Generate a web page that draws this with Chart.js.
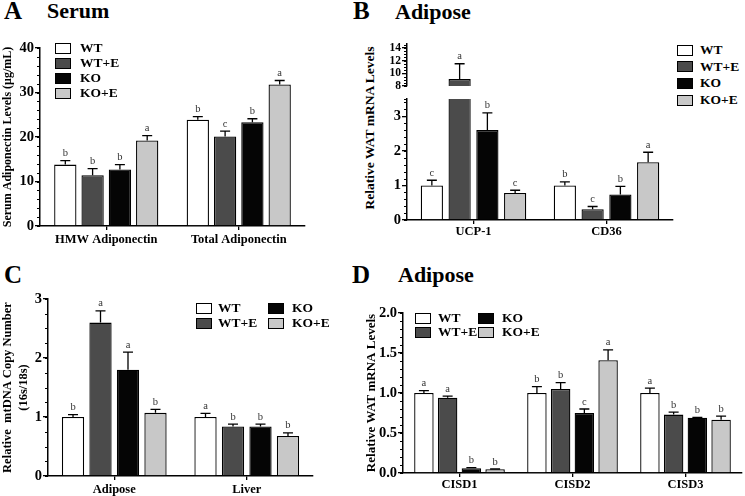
<!DOCTYPE html>
<html>
<head>
<meta charset="utf-8">
<script src="https://cdn.jsdelivr.net/npm/chart.js@4.4.1/dist/chart.umd.min.js"></script>
<style>
  body { margin: 0; background: #fff; }
  #fig { position: relative; width: 745px; height: 496px; overflow: hidden; background: #fff;
         font-family: 'Liberation Serif', 'Times New Roman', serif; color: #000; }
  #fig canvas { position: absolute; }
  .lbl { position: absolute; font-weight: bold; line-height: 1; white-space: nowrap; }
  .panel { font-size: 25px; }
  .head { font-size: 22px; }
  .leg { position: absolute; font-weight: bold; font-size: 13.5px; line-height: 1; white-space: nowrap; }
  .box { position: absolute; width: 16px; height: 11px; border: 1.3px solid #000; box-sizing: border-box; }
  .ytitle { position: absolute; font-weight: bold; font-size: 13.5px; white-space: nowrap;
            transform: translate(-50%, -50%) rotate(-90deg); }
</style>
</head>
<body>
<div id="fig">
  <div class="lbl panel" style="left:4px;top:-2px">A</div>
  <div class="lbl head" style="left:47px;top:0px">Serum</div>
  <div class="lbl panel" style="left:353px;top:-2px">B</div>
  <div class="lbl head" style="left:395px;top:1px">Adipose</div>
  <div class="lbl panel" style="left:4px;top:262px">C</div>
  <div class="lbl panel" style="left:352px;top:262px">D</div>
  <div class="lbl head" style="left:398px;top:264px">Adipose</div>
  <div class="ytitle" style="left:370px;top:128px">Relative WAT mRNA Levels</div>

  <canvas id="chartA" width="307" height="212" style="left:0px;top:38px"></canvas>
  <canvas id="chartBtop" width="295" height="60" style="left:380px;top:34px"></canvas>
  <canvas id="chartB" width="295" height="153" style="left:380px;top:89px"></canvas>
  <canvas id="chartC" width="315" height="209" style="left:0px;top:289px"></canvas>
  <canvas id="chartD" width="380" height="190" style="left:364px;top:303px"></canvas>
</div>
<script>
// groups shared by every panel
const groups = ['WT', 'WT+E', 'KO', 'KO+E'];
const fills  = ['#ffffff', '#4b4b4b', '#050505', '#c8c8c8'];

// A: serum adiponectin (ug/mL)
const aCategories = ['HMW Adiponectin', 'Total Adiponectin'];
const aWT  = [13.8, 23.9];
const aWTE = [11.4, 20.1];
const aKO  = [12.7, 23.3];
const aKOE = [19.2, 31.8];
const aErr = [[0.9, 0.7], [1.5, 1.2], [1.1, 0.8], [1.1, 0.9]];
const aLetters = [['b', 'b'], ['b', 'c'], ['b', 'b'], ['a', 'a']];

// B: WAT mRNA, broken axis
const bCategories = ['UCP-1', 'CD36'];
const bWT  = [1.0, 1.0];
const bWTE = [9.1, 0.31];
const bKO  = [2.6, 0.74];
const bKOE = [0.78, 1.67];
const bErr = [[0.15, 0.1], [2.4, 0.08], [0.5, 0.23], [0.08, 0.29]];
const bLetters = [['c', 'b'], ['a', 'c'], ['b', 'b'], ['c', 'a']];

// C: mtDNA copy number
const cCategories = ['Adipose', 'Liver'];
const cWT  = [1.0, 1.0];
const cWTE = [2.6, 0.84];
const cKO  = [1.8, 0.84];
const cKOE = [1.07, 0.68];
const cErr = [[0.04, 0.06], [0.2, 0.04], [0.3, 0.04], [0.06, 0.05]];
const cLetters = [['b', 'a'], ['a', 'b'], ['a', 'b'], ['b', 'b']];

// D: CISD genes
const dCategories = ['CISD1', 'CISD2', 'CISD3'];
const dWT  = [1.0, 1.0, 1.0];
const dWTE = [0.94, 1.05, 0.73];
const dKO  = [0.06, 0.75, 0.69];
const dKOE = [0.046, 1.41, 0.665];
const dErr = [[0.03, 0.08, 0.06], [0.02, 0.08, 0.03], [0.008, 0.05, 0.005], [0.004, 0.13, 0.045]];
const dLetters = [['a', 'b', 'a'], ['a', 'b', 'b'], ['b', 'c', 'b'], ['b', 'a', 'b']];

const FONT = "'Liberation Serif', 'Times New Roman', serif";

const errorBars = {
  id: 'errorBars',
  afterDatasetsDraw(chart) {
    const ctx = chart.ctx;
    const ys = chart.scales.y;
    chart.data.datasets.forEach((ds, i) => {
      chart.getDatasetMeta(i).data.forEach((bar, j) => {
        const v = ds.data[j];
        if (v == null || v > ys.max || v < ys.min) return;
        const top = ys.getPixelForValue(v + ds.errs[j]);
        ctx.save();
        ctx.strokeStyle = '#000';
        ctx.lineWidth = 1.3;
        ctx.beginPath();
        ctx.moveTo(bar.x, bar.y);
        ctx.lineTo(bar.x, top);
        ctx.moveTo(bar.x - 5, top);
        ctx.lineTo(bar.x + 5, top);
        ctx.stroke();
        ctx.fillStyle = '#333';
        ctx.font = '10.5px ' + FONT;
        ctx.textAlign = 'center';
        ctx.textBaseline = 'bottom';
        ctx.fillText(ds.lets[j], bar.x, top - 2);
        ctx.restore();
      });
    });
  }
};

const minorTicks = {
  id: 'minorTicks',
  afterDraw(chart, args, o) {
    if (!o.step) return;
    const ys = chart.scales.y, ctx = chart.ctx;
    const n = Math.floor((ys.max - ys.min) / o.step + 1e-6);
    const vals = [];
    for (let k = 0; k <= n; k++) vals.push(ys.min + k * o.step);
    (o.extra || []).forEach(v => vals.push(v));
    ctx.save();
    ctx.strokeStyle = '#000';
    ctx.lineWidth = 1;
    ctx.beginPath();
    vals.forEach(v => {
      const y = Math.round(ys.getPixelForValue(v)) + 0.5;
      ctx.moveTo(ys.right, y);
      ctx.lineTo(ys.right - 3, y);
    });
    ctx.stroke();
    ctx.restore();
  }
};

function barChart(id, cats, series, errs, lets, cfg) {
  const y = cfg.y;
  return new Chart(document.getElementById(id), {
    type: 'bar',
    data: {
      labels: cats,
      datasets: series.map((data, i) => ({
        label: groups[i],
        data: data,
        errs: errs[i],
        lets: lets[i],
        backgroundColor: fills[i],
        borderColor: '#000',
        borderWidth: 1.3,
        categoryPercentage: cfg.cp,
        barPercentage: cfg.bp,
        clip: 0,
      })),
    },
    options: {
      responsive: false,
      animation: false,
      events: [],
      layout: { padding: { top: cfg.padTop, right: 2, bottom: cfg.padBottom || 0, left: 0 } },
      plugins: {
        legend: { display: false },
        tooltip: { enabled: false },
        minorTicks: { step: y.minor, extra: y.extra },
      },
      scales: {
        x: {
          display: cfg.showX !== false,
          border: { color: '#000', width: 1.5 },
          grid: { drawOnChartArea: false, offset: false, color: '#000', lineWidth: 1.3, tickLength: 4 },
          ticks: { color: '#000', padding: cfg.xPad || 0, maxRotation: 0, autoSkip: false,
                   font: { family: FONT, weight: 'bold', size: 12.5 } },
          afterFit: s => { s.height = cfg.xH || 0; },
        },
        y: {
          min: y.min,
          max: y.max,
          border: { color: '#000', width: 1.5 },
          grid: { drawOnChartArea: false, color: '#000', lineWidth: 1.3, tickLength: 5 },
          ticks: {
            stepSize: y.step, autoSkip: false, includeBounds: false, padding: 1, color: '#000',
            font: { family: FONT, weight: 'bold', size: y.fontSize || 14.5 },
            callback: v => v.toFixed(y.dec || 0),
          },
          afterBuildTicks: s => {
            s.ticks = s.ticks.filter(t => Math.abs(t.value / y.step - Math.round(t.value / y.step)) < 1e-6);
          },
          afterFit: s => { s.width = cfg.axisW; },
          title: {
            display: !!y.title,
            text: y.title,
            color: '#000',
            padding: 0,
            font: { family: FONT, weight: 'bold', size: y.titleSize || 12, lineHeight: 1.25 },
          },
        },
      },
    },
    plugins: [errorBars, minorTicks],
  });
}

barChart('chartA', aCategories, [aWT, aWTE, aKO, aKOE], aErr, aLetters, {
  cp: 0.824, bp: 0.817, padTop: 10, axisW: 40, xH: 24, xPad: 2,
  y: { min: 0, max: 40, step: 10, minor: 2, title: 'Serum Adiponectin Levels (\u03bcg/mL)' },
});

// B is split in two stacked charts that share the category layout
const bTopMin = 8;
const bBottomMax = 3.5;
const bSeries = [bWT, bWTE, bKO, bKOE];
barChart('chartBtop', bCategories, bSeries.map(s => s.map(v => (v >= bTopMin ? v : null))), bErr, bLetters, {
  cp: 0.835, bp: 0.8, padTop: 10, padBottom: 7, axisW: 27, showX: false,
  y: { min: bTopMin, max: 14.6, step: 2, minor: 0.5, fontSize: 11.5 },
});
barChart('chartB', bCategories, bSeries, bErr, bLetters, {
  cp: 0.835, bp: 0.8, padTop: 10, axisW: 27, xH: 22, xPad: 0,
  y: { min: 0, max: bBottomMax, step: 1, minor: 0.2, extra: [bBottomMax] },
});

barChart('chartC', cCategories, [cWT, cWTE, cKO, cKOE], cErr, cLetters, {
  cp: 0.83, bp: 0.81, padTop: 10, axisW: 48, xH: 22, xPad: 2,
  y: { min: 0, max: 3, step: 1, minor: 0.25, titleSize: 12.5,
       title: ['Relative  mtDNA Copy Number', '(16s/18s)'] },
});

barChart('chartD', dCategories, [dWT, dWTE, dKO, dKOE], dErr, dLetters, {
  cp: 0.84, bp: 0.82, padTop: 10, axisW: 39, xH: 20, xPad: 0,
  y: { min: 0, max: 2, step: 0.5, minor: 0.1, dec: 1, titleSize: 13, title: 'Relative WAT mRNA Levels' },
});

// legends (HTML)
function legend(entries) {
  const fig = document.getElementById('fig');
  entries.forEach(e => {
    const b = document.createElement('div');
    b.className = 'box';
    b.style.left = e.bx + 'px';
    b.style.top = (e.cy - 5.5) + 'px';
    b.style.background = fills[e.g];
    fig.appendChild(b);
    const t = document.createElement('div');
    t.className = 'leg';
    t.style.left = e.tx + 'px';
    t.style.top = (e.cy - 7) + 'px';
    t.textContent = groups[e.g];
    fig.appendChild(t);
  });
}
legend([0, 1, 2, 3].map(g => ({ g, bx: 55, tx: 80, cy: 48 + g * 15 })));
legend([0, 1, 2, 3].map(g => ({ g, bx: 677, tx: 700, cy: 50 + g * 16.7 })));
legend([
  { g: 0, bx: 196, tx: 218, cy: 308 }, { g: 1, bx: 196, tx: 218, cy: 323 },
  { g: 2, bx: 268, tx: 292, cy: 308 }, { g: 3, bx: 268, tx: 292, cy: 323 },
]);
legend([
  { g: 0, bx: 415, tx: 438, cy: 318 }, { g: 1, bx: 415, tx: 438, cy: 332 },
  { g: 2, bx: 478, tx: 502, cy: 318 }, { g: 3, bx: 478, tx: 502, cy: 332 },
]);
</script>
</body>
</html>
